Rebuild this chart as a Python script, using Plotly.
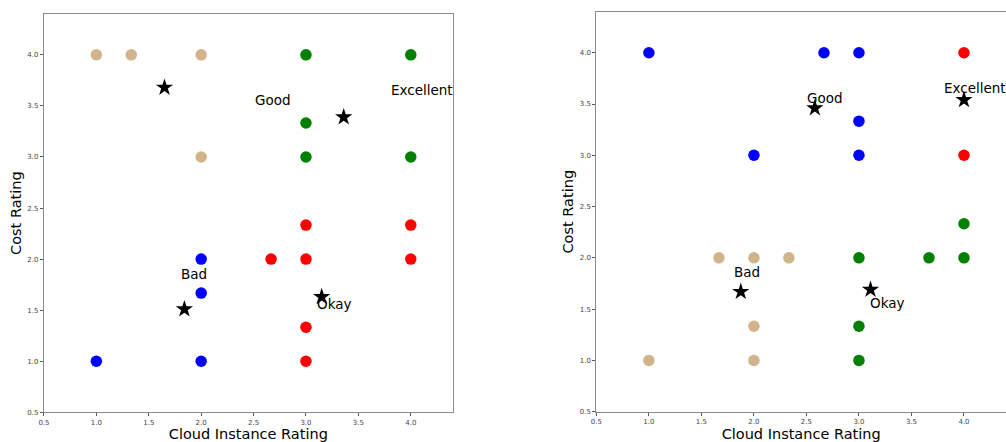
import plotly.graph_objects as go

# ---------------- data ----------------
# Left panel clusters
L_tan_x = [1.0, 1.333, 2.0, 2.0]
L_tan_y = [4.0, 4.0, 4.0, 3.0]
L_green_x = [3.0, 4.0, 3.0, 3.0, 4.0]
L_green_y = [4.0, 4.0, 3.333, 3.0, 3.0]
L_red_x = [3.0, 4.0, 2.667, 3.0, 4.0, 3.0, 3.0]
L_red_y = [2.333, 2.333, 2.0, 2.0, 2.0, 1.333, 1.0]
L_blue_x = [2.0, 2.0, 1.0, 2.0]
L_blue_y = [2.0, 1.667, 1.0, 1.0]
L_star_x = [1.65, 3.36, 1.84, 3.15]
L_star_y = [3.68, 3.39, 1.51, 1.63]

# Right panel clusters
R_blue_x = [1.0, 2.667, 3.0, 3.0, 2.0, 3.0]
R_blue_y = [4.0, 4.0, 4.0, 3.333, 3.0, 3.0]
R_red_x = [4.0, 4.0]
R_red_y = [4.0, 3.0]
R_green_x = [4.0, 3.0, 3.667, 4.0, 3.0, 3.0]
R_green_y = [2.333, 2.0, 2.0, 2.0, 1.333, 1.0]
R_tan_x = [1.667, 2.0, 2.333, 2.0, 1.0, 2.0]
R_tan_y = [2.0, 2.0, 2.0, 1.333, 1.0, 1.0]
R_star_x = [2.58, 4.0, 1.875, 3.11]
R_star_y = [3.46, 3.54, 1.67, 1.69]

label_text = ["Good", "Excellent", "Bad", "Okay"]
label_x = [2.5, 3.8, 1.8, 3.1]
label_y = [3.5, 3.6, 1.8, 1.5]

tick_vals = [0.5, 1.0, 1.5, 2.0, 2.5, 3.0, 3.5, 4.0]
tick_text = ["0.5", "1.0", "1.5", "2.0", "2.5", "3.0", "3.5", "4.0"]

FONT = "DejaVu Sans"
fig = go.Figure()


def dots(x, y, color, xa, ya):
    fig.add_trace(go.Scatter(x=x, y=y, mode="markers", xaxis=xa, yaxis=ya,
                             marker=dict(color=color, size=11.5, line=dict(width=0)),
                             showlegend=False, hoverinfo="skip"))


def stars(x, y, xa, ya):
    fig.add_trace(go.Scatter(x=x, y=y, mode="markers", xaxis=xa, yaxis=ya,
                             marker=dict(color="black", size=13, symbol="star",
                                         line=dict(width=0)),
                             showlegend=False, hoverinfo="skip"))


dots(L_tan_x, L_tan_y, "tan", "x", "y")
dots(L_green_x, L_green_y, "green", "x", "y")
dots(L_red_x, L_red_y, "red", "x", "y")
dots(L_blue_x, L_blue_y, "blue", "x", "y")
stars(L_star_x, L_star_y, "x", "y")

dots(R_blue_x, R_blue_y, "blue", "x2", "y2")
dots(R_red_x, R_red_y, "red", "x2", "y2")
dots(R_green_x, R_green_y, "green", "x2", "y2")
dots(R_tan_x, R_tan_y, "tan", "x2", "y2")
stars(R_star_x, R_star_y, "x2", "y2")

annotations = []
for xr, yr in [("x", "y"), ("x2", "y2")]:
    for t, lx, ly in zip(label_text, label_x, label_y):
        annotations.append(dict(text=t, x=lx, y=ly, xref=xr, yref=yr,
                                showarrow=False, xanchor="left", yanchor="bottom",
                                xshift=-1, yshift=-4,
                                font=dict(family=FONT, size=13.5, color="black")))

axis_common = dict(
    range=[0.5, 4.4], tickvals=tick_vals, ticktext=tick_text, automargin=False,
    showgrid=False, zeroline=False, showline=True, mirror=True,
    linecolor="#8c8c8c", linewidth=1.2, ticks="outside", ticklen=3,
    tickcolor="#555555", tickfont=dict(family=FONT, size=7, color="#444444"),
)

fig.update_layout(
    width=1006, height=442,
    margin=dict(l=0, r=0, t=0, b=0),
    paper_bgcolor="white", plot_bgcolor="white",
    font=dict(family=FONT),
    xaxis=dict(domain=[0.0437, 0.450], anchor="y",
               title=dict(text="Cloud Instance Rating", standoff=6,
                          font=dict(family=FONT, size=14.5, color="black")),
               **axis_common),
    yaxis=dict(domain=[0.0672, 0.9683], anchor="x",
               title=dict(text="Cost Rating", standoff=2,
                          font=dict(family=FONT, size=14.5, color="black")),
               **axis_common),
    xaxis2=dict(domain=[0.5928, 1.0], anchor="y2",
                title=dict(text="Cloud Instance Rating", standoff=6,
                           font=dict(family=FONT, size=14.5, color="black")),
                **axis_common),
    yaxis2=dict(domain=[0.0686, 0.9735], anchor="x2",
                title=dict(text="Cost Rating", standoff=2,
                           font=dict(family=FONT, size=14.5, color="black")),
                **axis_common),
    annotations=annotations,
)

fig.write_html("out.html")
